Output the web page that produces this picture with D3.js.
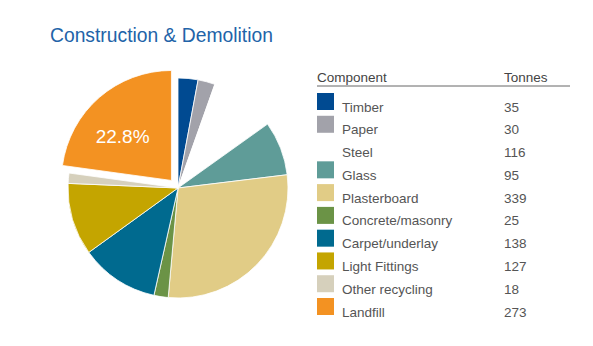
<!DOCTYPE html>
<html><head><meta charset="utf-8">
<script src="https://cdn.jsdelivr.net/npm/d3@7"></script>
<style>body{margin:0;background:#fff;} svg{display:block;font-family:"Liberation Sans",Arial,sans-serif;}</style>
</head><body>
<svg id="c" width="593" height="346"></svg>
<script>
const components = ["Timber","Paper","Steel","Glass","Plasterboard","Concrete/masonry","Carpet/underlay","Light Fittings","Other recycling","Landfill"];
const tonnes = [35,30,116,95,339,25,138,127,18,273];
const colors = ["#004a91","#a2a2aa","#ffffff","#5f9c98","#e1cc86","#6b9346","#006a8f","#c4a500","#d6d0bc","#f39222"];
const explodedIndex = 9;

const svg = d3.select("#c");
svg.append("text").attr("x",50).attr("y",42).attr("fill","#2263a8")
  .attr("font-size",19.3).text("Construction & Demolition");

const cx = 178, cy = 188, r = 110;
const total = d3.sum(tonnes);
const data = components.map((c,i)=>({name:c,value:tonnes[i],color:colors[i],i}));
const pie = d3.pie().value(d=>d.value).sort(null);
const arcs = pie(data);
const arc = d3.arc().innerRadius(0).outerRadius(r);
const g = svg.append("g").attr("transform",`translate(${cx},${cy})`);
const explode = 10;
g.selectAll("path").data(arcs).join("path")
  .attr("d",arc)
  .attr("fill",d=>d.data.color)
  .attr("stroke","#fff").attr("stroke-width",0.8)
  .attr("transform",d=>{
    if(d.data.i!==explodedIndex) return null;
    const a=(d.startAngle+d.endAngle)/2;
    return `translate(${explode*Math.sin(a)},${-explode*Math.cos(a)})`;
  });
const ex = arcs[explodedIndex];
const ma=(ex.startAngle+ex.endAngle)/2 - 0.1;
const lr = 66;
g.append("text")
  .attr("x",(lr+explode)*Math.sin(ma)).attr("y",-(lr+explode)*Math.cos(ma))
  .attr("text-anchor","middle").attr("dy","0.36em")
  .attr("fill","#fff").attr("font-size",19)
  .text(d3.format(".1%")(ex.data.value/total));

// legend
const lx = 317, vx = 504, fs = 13.5;
svg.append("text").attr("x",lx).attr("y",82).attr("fill","#444").attr("font-size",fs).text("Component");
svg.append("text").attr("x",vx).attr("y",82).attr("fill","#444").attr("font-size",fs).text("Tonnes");
svg.append("line").attr("x1",lx).attr("x2",570).attr("y1",86).attr("y2",86).attr("stroke","#666").attr("stroke-width",1);
const y = d3.scalePoint().domain(components).range([102,307]);
const rows = svg.selectAll("g.row").data(data).join("g").attr("class","row")
  .attr("transform",d=>`translate(0,${y(d.name)})`);
rows.append("rect").attr("x",lx).attr("y",-9).attr("width",17).attr("height",17).attr("fill",d=>d.color);
rows.append("text").attr("x",342).attr("y",9.5).attr("fill","#555").attr("font-size",fs).text(d=>d.name);
rows.append("text").attr("x",vx).attr("y",9.5).attr("fill","#555").attr("font-size",fs).text(d=>d.value);
</script>
</body></html>
